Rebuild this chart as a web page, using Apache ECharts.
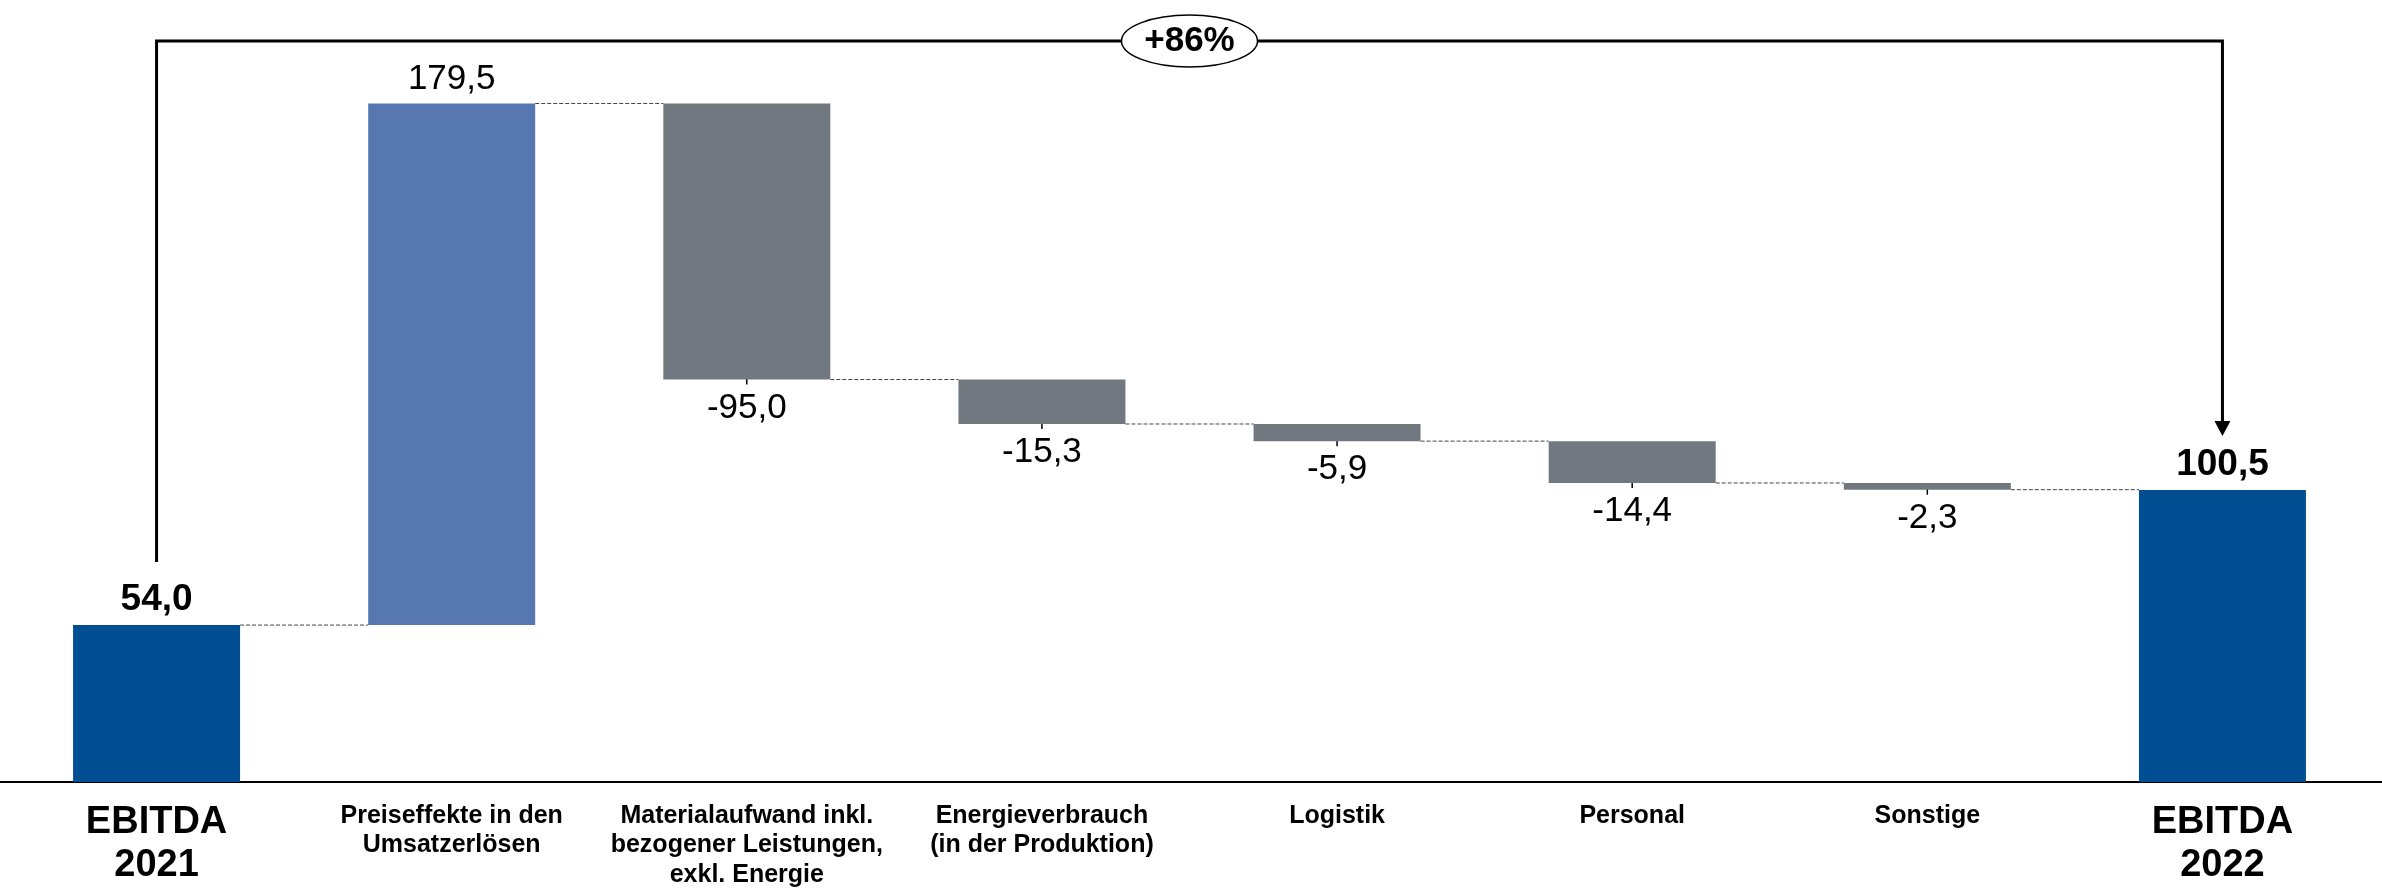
<!DOCTYPE html>
<html>
<head>
<meta charset="utf-8">
<script src="https://cdn.jsdelivr.net/npm/echarts@6/dist/echarts.min.js"></script>
<style>
    html, body { margin: 0; padding: 0; background: #fff; }
    #chart { width: 2382px; height: 891px; }
</style>
</head>
<body>
<div id="chart"></div>
<script>
const categories = [
    'EBITDA\n2021',
    'Preiseffekte in den\nUmsatzerlösen',
    'Materialaufwand inkl.\nbezogener Leistungen,\nexkl. Energie',
    'Energieverbrauch\n(in der Produktion)',
    'Logistik',
    'Personal',
    'Sonstige',
    'EBITDA\n2022',
]
const startValue = 54.0
const deltas = [179.5, -95.0, -15.3, -5.9, -14.4, -2.3]
const endValue = 100.5
const growthLabel = '+86%'

const DARK_BLUE = '#024E93'
const LIGHT_BLUE = '#5677B0'
const GREY = '#72787F'
const FONT = 'Liberation Sans, Arial, sans-serif'
const BAR_W = 167

// build the invisible base + visible height for the waterfall
const shown = [startValue, ...deltas, endValue]
const base = [0]
const height = [startValue]
const levels = [startValue] // running total after each bar
let run = startValue
deltas.forEach(d => {
    const prev = run
    run += d
    base.push(Math.min(prev, run))
    height.push(Math.abs(d))
    levels.push(run)
})
base.push(0)
height.push(endValue)
levels.push(endValue)

const fmt = v => v.toFixed(1).replace('.', ',')
const last = categories.length - 1

const barData = height.map((h, i) => {
    const isTotal = i === 0 || i === last
    const neg = !isTotal && shown[i] < 0
    return {
        value: h,
        itemStyle: { color: isTotal ? DARK_BLUE : neg ? GREY : LIGHT_BLUE },
        label: {
            show: true,
            position: neg ? 'bottom' : 'top',
            distance: neg ? 11 : 7,
            fontFamily: FONT,
            fontSize: isTotal ? 37 : 35,
            fontWeight: isTotal ? 'bold' : 'normal',
            color: '#000',
            formatter: () => fmt(shown[i]),
        },
    }
})

// dashed connector lines between neighbouring bars
const connectorData = levels.slice(0, last).map((lv, i) => [i, lv])
// little tick marks on the negative bars
const tickData = []
shown.forEach((v, i) => {
    if (i > 0 && i < last && v < 0) tickData.push([i, levels[i], levels[i - 1]])
})

const chart = echarts.init(document.getElementById('chart'))
chart.setOption({
    animation: false,
    grid: { left: 9, right: 12, top: 41, bottom: 109 },
    xAxis: {
        type: 'category',
        data: categories,
        axisLine: { show: false },
        axisTick: { show: false },
        axisLabel: {
            interval: 0,
            margin: 19,
            color: '#000',
            formatter: (val, idx) => {
                const tag = idx === 0 || idx === last ? 'big' : 'small'
                return val.split('\n').map(l => `{${tag}|${l}}`).join('\n')
            },
            rich: {
                big: { fontFamily: FONT, fontSize: 38, fontWeight: 'bold', lineHeight: 43, color: '#000' },
                small: { fontFamily: FONT, fontSize: 25, fontWeight: 'bold', lineHeight: 29.5, color: '#000' },
            },
        },
    },
    yAxis: {
        type: 'value',
        min: 0,
        max: 255,
        show: false,
        splitLine: { show: false },
    },
    series: [
        {
            type: 'bar',
            stack: 'wf',
            barWidth: BAR_W,
            itemStyle: { color: 'transparent' },
            data: base,
            silent: true,
        },
        {
            type: 'bar',
            stack: 'wf',
            barWidth: BAR_W,
            data: barData,
        },
        {
            type: 'custom',
            data: connectorData,
            silent: true,
            renderItem: (params, api) => {
                const p = api.coord([api.value(0), api.value(1)])
                const band = api.size([1, 0])[0]
                return {
                    type: 'line',
                    shape: { x1: p[0] + BAR_W / 2, y1: p[1], x2: p[0] + band - BAR_W / 2, y2: p[1] },
                    style: { stroke: '#444', lineWidth: 1, lineDash: [4, 2] },
                }
            },
        },
        {
            type: 'custom',
            data: tickData,
            silent: true,
            renderItem: (params, api) => {
                const bottom = api.coord([api.value(0), api.value(1)])
                const top = api.coord([api.value(0), api.value(2)])
                const y1 = Math.max((top[1] + bottom[1]) / 2, bottom[1] - 16)
                return {
                    type: 'line',
                    shape: { x1: bottom[0], y1: y1, x2: bottom[0], y2: bottom[1] + 5 },
                    style: { stroke: '#000', lineWidth: 1.5 },
                }
            },
        },
        {
            // baseline across the whole picture
            type: 'custom',
            data: [[0, 0]],
            silent: true,
            clip: false,
            renderItem: (params, api) => {
                const p = api.coord([0, 0])
                return {
                    type: 'line',
                    shape: { x1: 0, y1: p[1], x2: api.getWidth(), y2: p[1] },
                    style: { stroke: '#000', lineWidth: 2 },
                }
            },
        },
        {
            type: 'custom',
            data: [[0, startValue, last, endValue]],
            silent: true,
            clip: false,
            z: 10,
            renderItem: (params, api) => {
                const a = api.coord([api.value(0), api.value(1)])
                const b = api.coord([api.value(2), api.value(3)])
                const topY = params.coordSys.y
                const leftEnd = a[1] - 63
                const tipY = b[1] - 54
                const ah = 15
                const midX = (a[0] + b[0]) / 2
                return {
                    type: 'group',
                    children: [
                        {
                            type: 'polyline',
                            shape: { points: [[a[0], leftEnd], [a[0], topY], [b[0], topY], [b[0], tipY - ah]] },
                            style: { stroke: '#000', lineWidth: 3, fill: null },
                        },
                        {
                            type: 'polygon',
                            shape: { points: [[b[0] - 8, tipY - ah], [b[0] + 8, tipY - ah], [b[0], tipY]] },
                            style: { fill: '#000' },
                        },
                        {
                            type: 'ellipse',
                            shape: { cx: midX, cy: topY, rx: 68, ry: 26 },
                            style: { fill: '#fff', stroke: '#000', lineWidth: 1.5 },
                        },
                        {
                            type: 'text',
                            style: {
                                x: midX,
                                y: topY,
                                text: growthLabel,
                                align: 'center',
                                verticalAlign: 'middle',
                                fontFamily: FONT,
                                fontSize: 35,
                                fontWeight: 'bold',
                                fill: '#000',
                            },
                        },
                    ],
                }
            },
        },
    ],
})
</script>
</body>
</html>
